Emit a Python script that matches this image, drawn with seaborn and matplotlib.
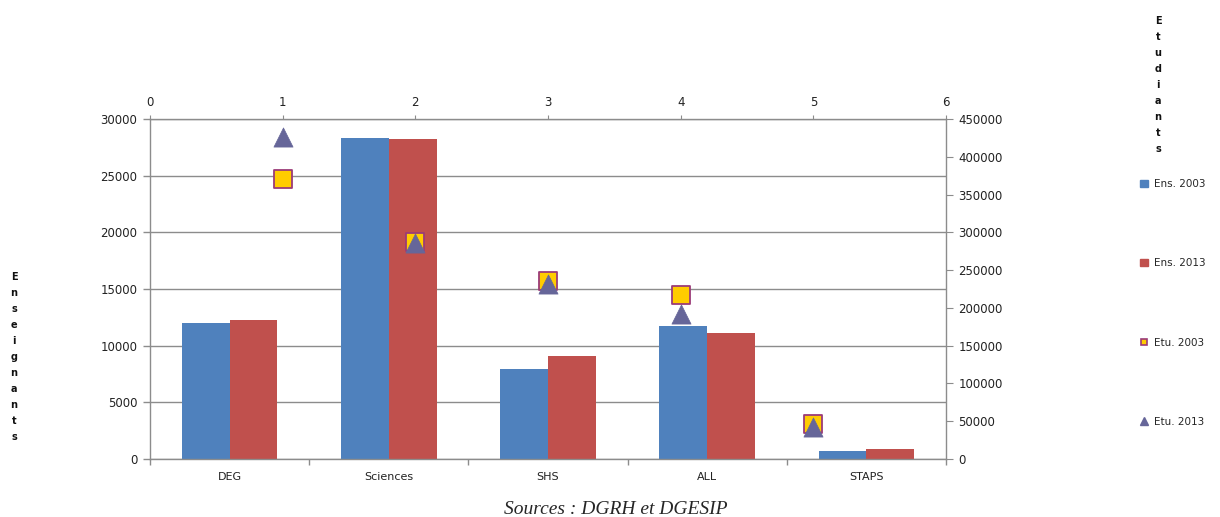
import matplotlib
matplotlib.use("Agg")
import matplotlib.pyplot as plt
import seaborn as sns
import pandas as pd
from matplotlib.lines import Line2D
from matplotlib.patches import Patch

# Teaching staff per discipline (left axis)
categories = ["DEG", "Sciences", "SHS", "ALL", "STAPS"]
ens_2003 = [12000, 28300, 7900, 11700, 700]
ens_2013 = [12300, 28200, 9100, 11100, 900]

# Student numbers (right axis, plotted against the top 0-6 scale)
etu_positions = [1, 2, 3, 4, 5]
etu_2003 = [370000, 287000, 235000, 217000, 46000]
etu_2013 = [426000, 286000, 232000, 192000, 42000]

series_labels = ["Ens. 2003", "Ens. 2013", "Etu. 2003", "Etu. 2013"]
left_ticks = list(range(0, 30001, 5000))
right_ticks = list(range(0, 450001, 50000))
top_ticks = [0, 1, 2, 3, 4, 5, 6]

BLUE = "#4F81BD"
RED = "#C0504D"
YELLOW = "#FFCC00"
SQUARE_EDGE = "#9B3B78"
PURPLE = "#666699"
GRID = "#8C8C8C"

sns.set_style("white")
plt.rcParams["font.family"] = ["DejaVu Sans"]

fig = plt.figure(figsize=(12.2, 5.17), dpi=100)
pos = [150 / 1220, 58 / 517, 796 / 1220, 340 / 517]
ax = fig.add_axes(pos)

bars = pd.DataFrame({
    "Filière": categories * 2,
    "Effectif": ens_2003 + ens_2013,
    "Série": [series_labels[0]] * len(categories) + [series_labels[1]] * len(categories),
})
sns.barplot(data=bars, x="Filière", y="Effectif", hue="Série",
            palette=[BLUE, RED], width=0.6, gap=0, saturation=1,
            linewidth=0, edgecolor="none", legend=False, ax=ax)

ax.set_xlim(-0.5, len(categories) - 0.5)
ax.set_ylim(0, 30000)
ax.set_yticks(left_ticks)
ax.set_axisbelow(True)
ax.yaxis.grid(True, color=GRID, linewidth=1)
ax.xaxis.grid(False)
ax.set_xlabel("")
ax.set_ylabel("")
ax.tick_params(axis="y", labelsize=8.5, length=5, width=1, color=GRID,
               direction="out", left=True, pad=4, labelcolor="#222222")
ax.set_xticks(range(len(categories)))
ax.set_xticklabels(categories, fontsize=8, color="#222222")
ax.tick_params(axis="x", which="major", length=0, pad=9)
ax.set_xticks([i - 0.5 for i in range(len(categories) + 1)], minor=True)
ax.tick_params(axis="x", which="minor", length=4, width=1, color=GRID,
               direction="out", bottom=True)
for side in ("top", "right"):
    ax.spines[side].set_visible(False)
for side in ("left", "bottom"):
    ax.spines[side].set_color(GRID)
    ax.spines[side].set_linewidth(1)

# Secondary axes: top x scale and right y scale for the student markers
ax2 = fig.add_axes(pos, frameon=True)
ax2.patch.set_visible(False)
ax2.xaxis.tick_top()
ax2.yaxis.tick_right()
ax2.set_xlim(0, 6)
ax2.set_ylim(0, 450000)
ax2.set_xticks(top_ticks)
ax2.set_yticks(right_ticks)
ax2.tick_params(axis="x", labelsize=8.5, length=3, color=GRID, pad=4,
                labelcolor="#222222")
ax2.tick_params(axis="y", labelsize=8.5, length=5, color=GRID, pad=4,
                direction="out", labelcolor="#222222")
ax2.grid(False)
for side in ("left", "bottom"):
    ax2.spines[side].set_visible(False)
for side in ("top", "right"):
    ax2.spines[side].set_color(GRID)
    ax2.spines[side].set_linewidth(1)

sns.scatterplot(x=etu_positions, y=etu_2003, marker="s", s=170,
                color=YELLOW, edgecolor=SQUARE_EDGE, linewidth=1.3,
                ax=ax2, zorder=3)
sns.scatterplot(x=etu_positions, y=etu_2013, marker="^", s=190,
                color=PURPLE, edgecolor=PURPLE, linewidth=0.5,
                ax=ax2, zorder=4)
ax2.set_xlabel("")
ax2.set_ylabel("")

# Legend on the right
handles = [
    Patch(facecolor=BLUE, edgecolor=BLUE),
    Patch(facecolor=RED, edgecolor=RED),
    Line2D([], [], linestyle="none", marker="s", markersize=5,
           markerfacecolor=YELLOW, markeredgecolor=SQUARE_EDGE, markeredgewidth=1.2),
    Line2D([], [], linestyle="none", marker="^", markersize=6,
           markerfacecolor=PURPLE, markeredgecolor=PURPLE),
]
fig.legend(handles, series_labels, loc="upper left",
           bbox_to_anchor=(1140 / 1220, 1 - 179 / 517), frameon=False,
           fontsize=7.5, labelspacing=6.65, handlelength=0.8, handleheight=0.7,
           handletextpad=0.5, borderaxespad=0, borderpad=0)

# Stacked-letter axis titles
fig.text(14 / 1220, 1 - 357 / 517, "\n".join("Enseignants"), ha="center",
         va="center", fontsize=7, fontweight="bold", linespacing=1.75,
         color="#111111")
fig.text(1158 / 1220, 1 - 85 / 517, "\n".join("Etudiants"), ha="center",
         va="center", fontsize=7, fontweight="bold", linespacing=1.75,
         color="#111111")

fig.text(616 / 1220, 1 - 509 / 517, "Sources : DGRH et DGESIP", ha="center",
         va="center", fontsize=14, fontstyle="italic",
         family=["Liberation Serif", "DejaVu Serif"])

fig.savefig("out.png", dpi=100, facecolor="white")
